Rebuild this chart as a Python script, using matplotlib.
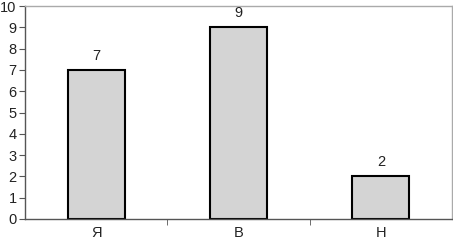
import matplotlib.pyplot as plt

# Categories and values
categories = ['Я', 'В', 'Н']
values = [7, 9, 2]
y_ticks = list(range(0, 11))

plt.rcParams['font.family'] = ['Liberation Sans', 'DejaVu Sans']

fig = plt.figure(figsize=(4.53, 2.42), dpi=100)
ax = fig.add_axes([25 / 453, 23 / 242, 427 / 453, 213 / 242])

x = list(range(len(categories)))
bars = ax.bar(x, values, width=0.4, color='#d4d4d4', edgecolor='black', linewidth=1.5)

for xi, v in zip(x, values):
    ax.annotate(str(v), (xi, v), xytext=(0, 5), textcoords='offset points',
                ha='center', va='bottom', fontsize=10.5, color='#222222')

ax.set_xlim(-0.5, len(categories) - 0.5)
ax.set_ylim(0, 10)
ax.set_yticks(y_ticks)
ax.set_xticks(x)
ax.set_xticklabels(categories)
ax.set_xticks([0.5, 1.5], minor=True)
ax.tick_params(axis='x', which='major', length=0, pad=5, labelsize=10.5, labelcolor='#222222')
ax.tick_params(axis='x', which='minor', length=4, color='#555555', direction='out')
ax.tick_params(axis='y', length=4, color='#555555', labelsize=10.5, labelcolor='#222222', pad=2)

ax.spines['left'].set_color('#555555')
ax.spines['bottom'].set_color('#555555')
ax.spines['top'].set_color('#aaaaaa')
ax.spines['right'].set_color('#aaaaaa')
for s in ax.spines.values():
    s.set_linewidth(1.0)

fig.savefig('out.png', dpi=100)
